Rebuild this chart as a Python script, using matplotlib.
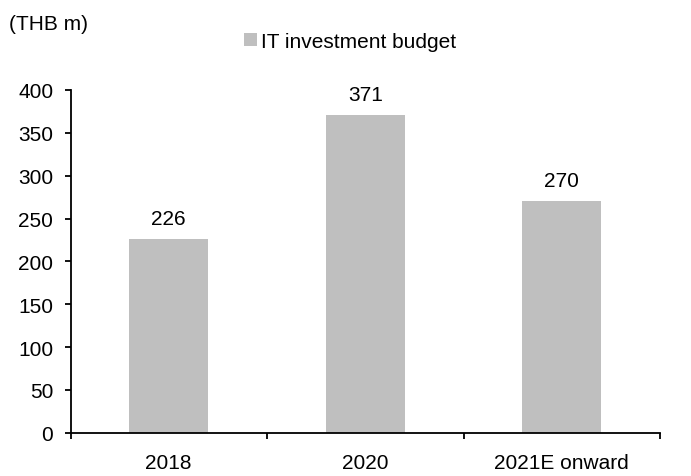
import numpy as np
import matplotlib
matplotlib.use("Agg")
import matplotlib.pyplot as plt
from matplotlib.ticker import FixedLocator

categories = ['2018', '2020', '2021E onward']
budget = [226, 371, 270]
yticks = [0, 50, 100, 150, 200, 250, 300, 350, 400]

plt.rcParams['font.family'] = ['Liberation Sans', 'DejaVu Sans']
plt.rcParams['font.size'] = 15

W, H = 691, 477
fig = plt.figure(figsize=(W / 100, H / 100), dpi=100)
ax = fig.add_axes([70.5 / W, 1 - 433.7 / H, (660 - 70.5) / W, (433.7 - 91) / H])

x = np.arange(len(categories))
ax.bar(x, budget, width=0.40, color='#bfbfbf', label='IT investment budget', zorder=2)
for xi, v in zip(x, budget):
    ax.annotate(str(v), (xi, v), xytext=(0, 8), textcoords='offset points',
                ha='center', va='bottom', fontsize=15)

ax.set_xlim(-0.5, len(categories) - 0.5)
ax.set_ylim(0, 400)
ax.set_yticks(yticks)
ax.set_yticklabels([str(t) for t in yticks])

# category names centred; tick marks sit on the category boundaries
ax.set_xticks(x)
ax.set_xticklabels(categories)
ax.tick_params(axis='x', which='major', length=0, pad=14.5)
ax.xaxis.set_minor_locator(FixedLocator(np.arange(len(categories) + 1) - 0.5))
ax.tick_params(axis='x', which='minor', length=4.5, width=1.3, direction='out')
ax.tick_params(axis='y', length=4.5, width=1.3, direction='out', pad=8)

for side in ['top', 'right']:
    ax.spines[side].set_visible(False)
for side in ['left', 'bottom']:
    ax.spines[side].set_linewidth(1.3)

fig.text(9 / W, 1 - 24 / H, '(THB m)', fontsize=15, va='center', ha='left')
ax.legend(loc='center', bbox_to_anchor=(350 / W, 1 - 42 / H), bbox_transform=fig.transFigure,
          frameon=False, fontsize=15, handlelength=0.6, handleheight=0.6,
          handletextpad=0.2, borderpad=0, borderaxespad=0)

fig.savefig('out.png', dpi=100)
